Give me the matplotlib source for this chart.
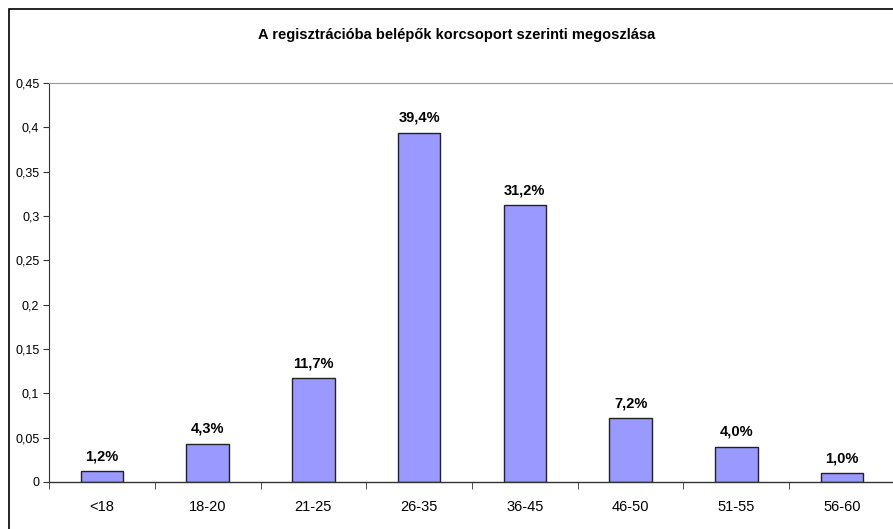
import matplotlib
matplotlib.use("AGG")
import numpy as np
import matplotlib.pyplot as plt
from matplotlib.patches import Rectangle

categories = ['<18', '18-20', '21-25', '26-35', '36-45', '46-50', '51-55', '56-60']
shares = [0.012, 0.043, 0.117, 0.394, 0.312, 0.072, 0.040, 0.010]
yticks = [0, 0.05, 0.1, 0.15, 0.2, 0.25, 0.3, 0.35, 0.4, 0.45]
title = 'A regisztrációba belépők korcsoport szerinti megoszlása'

plt.rcParams['font.family'] = ['Liberation Sans', 'DejaVu Sans']

fig = plt.figure(figsize=(8.93, 5.29), dpi=100)
# outer chart frame (cropped on right and bottom)
fig.patches.append(Rectangle((8.5/893, -0.05), 1.2, 1 - 8.5/529 + 0.05,
                             transform=fig.transFigure, fill=False,
                             edgecolor='black', linewidth=1.2))

ax = fig.add_axes([49/893, 47/529, 846/893, 399/529])
x = np.arange(len(categories))
ax.bar(x, shares, width=0.4, color='#9999FF', edgecolor='#222222', linewidth=1.0)

for xi, v in zip(x, shares):
    lbl = ('%.1f%%' % (v * 100)).replace('.', ',')
    ax.text(xi, v + 0.009, lbl, ha='center', va='bottom',
            fontsize=10.5, fontweight='bold')

ax.set_xlim(-0.5, len(categories) - 0.5)
ax.set_ylim(0, 0.45)
ax.set_yticks(yticks)
ax.set_yticklabels([('%g' % t).replace('.', ',') for t in yticks], fontsize=9)
ax.set_xticks(x)
ax.set_xticklabels(categories, fontsize=10.5)
ax.tick_params(axis='x', length=0, pad=13)
ax.set_xticks(np.arange(len(categories) + 1) - 0.5, minor=True)
ax.tick_params(axis='x', which='minor', length=5, direction='out', color='#333333')
ax.tick_params(axis='y', length=4, direction='out', color='#333333', pad=3)

for s in ['right', 'bottom']:
    ax.spines[s].set_visible(False)
ax.spines['left'].set_color('#333333')
ax.spines['top'].set_color('#999999')
ax.axhline(0, color='#333333', linewidth=1.0, clip_on=False)

fig.text(457/893, 1 - 35/529, title, ha='center', va='center',
         fontsize=10.5, fontweight='bold')

plt.savefig('out.png', dpi=100)
